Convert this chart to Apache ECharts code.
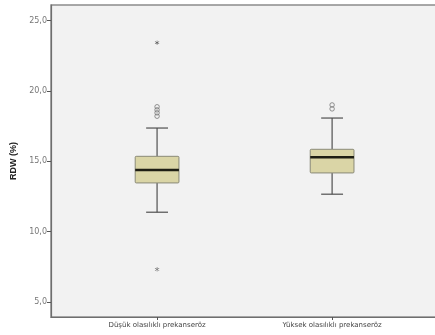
<!DOCTYPE html>
<html>
<head>
<meta charset="utf-8">
<script src="https://cdn.jsdelivr.net/npm/echarts@6/dist/echarts.min.js"></script>
<style>
html,body{margin:0;padding:0;background:#fff;}
#c{width:435px;height:335px;}
</style>
</head>
<body>
<div id="c"></div>
<script>
// Data
var categories = ['Düşük olasılıklı prekanseröz', 'Yüksek olasılıklı prekanseröz'];
var whiskerLow = [11.38, 12.66];
var q1 = [13.46, 14.17];
var median = [14.38, 15.28];
var q3 = [15.35, 15.85];
var whiskerHigh = [17.36, 18.07];
// outliers: [group index (0-based), value]
var outliers = [[0, 18.87], [0, 18.65], [0, 18.44], [0, 18.2], [1, 19.0], [1, 18.72]];
var extremes = [[0, 23.42], [0, 7.32]];
var yTicks = [5, 10, 15, 20, 25];

var boxData = categories.map(function (c, i) {
  return [i + 1, whiskerLow[i], q1[i], median[i], q3[i], whiskerHigh[i]];
});
var outData = outliers.map(function (o) { return [o[0] + 1, o[1]]; });
var extData = extremes.map(function (o) { return [o[0] + 1, o[1]]; });

var starPath = 'path://M-1.2,-10L1.2,-10L1.2,10L-1.2,10Z' +
  'M8.06,-6.04L9.26,-3.96L-8.06,6.04L-9.26,3.96Z' +
  'M-9.26,-3.96L-8.06,-6.04L9.26,3.96L8.06,6.04Z';

var chart = echarts.init(document.getElementById('c'), null, {renderer: 'canvas'});
chart.setOption({
  animation: false,
  backgroundColor: '#ffffff',
  grid: {
    left: 51, top: 5, width: 394, bottom: 18,
    outerBoundsMode: 'none', containLabel: false,
    show: true, backgroundColor: '#f2f2f2', borderColor: '#8c8c8c', borderWidth: 1.5
  },
  xAxis: {
    type: 'value',
    min: 0.394, max: 2.645,
    splitLine: {show: false},
    axisLine: {show: true, onZero: false, lineStyle: {color: '#6e6e6e', width: 1.2}},
    axisTick: {show: true, customValues: [1, 2], length: 3, inside: false, lineStyle: {color: '#555'}},
    axisLabel: {
      customValues: [1, 2], margin: 5,
      formatter: function (v) { return categories[Math.round(v) - 1] || ''; },
      fontSize: 7, color: '#444', fontFamily: 'DejaVu Sans'
    }
  },
  yAxis: {
    type: 'value',
    min: 3.936, max: 26.1,
    name: 'RDW (%)', nameLocation: 'middle', nameGap: 32, nameRotate: 90,
    nameTextStyle: {fontSize: 9, fontWeight: 'bold', color: '#222', fontFamily: 'Liberation Sans'},
    splitLine: {show: false},
    axisLine: {show: true, onZero: false, lineStyle: {color: '#6e6e6e', width: 1.2}},
    axisTick: {show: true, customValues: yTicks, length: 4, lineStyle: {color: '#555'}},
    axisLabel: {
      customValues: yTicks, margin: 4,
      formatter: function (v) { return v.toFixed(1).replace('.', ','); },
      fontSize: 8, color: '#777', fontFamily: 'DejaVu Sans'
    }
  },
  series: [
    {
      type: 'custom',
      data: boxData,
      renderItem: function (params, api) {
        var x = api.value(0);
        var lo = api.coord([x, api.value(1)]);
        var b1 = api.coord([x, api.value(2)]);
        var md = api.coord([x, api.value(3)]);
        var b3 = api.coord([x, api.value(4)]);
        var hi = api.coord([x, api.value(5)]);
        var half = api.size([0.125, 0])[0];
        var cap = half / 2;
        var cx = b1[0];
        var wStyle = {stroke: '#505050', lineWidth: 1.2};
        return {
          type: 'group',
          children: [
            {type: 'line', shape: {x1: cx, y1: b3[1], x2: cx, y2: hi[1]}, style: wStyle},
            {type: 'line', shape: {x1: cx, y1: b1[1], x2: cx, y2: lo[1]}, style: wStyle},
            {type: 'line', shape: {x1: cx - cap, y1: hi[1], x2: cx + cap, y2: hi[1]}, style: wStyle},
            {type: 'line', shape: {x1: cx - cap, y1: lo[1], x2: cx + cap, y2: lo[1]}, style: wStyle},
            {type: 'rect', shape: {x: cx - half, y: b3[1], width: half * 2, height: b1[1] - b3[1], r: 1},
              style: {fill: '#dad5a6', stroke: '#8a8a78', lineWidth: 1}},
            {type: 'line', shape: {x1: cx - half, y1: md[1], x2: cx + half, y2: md[1]},
              style: {stroke: '#1e1e14', lineWidth: 2.4}}
          ]
        };
      },
      z: 3
    },
    {
      type: 'scatter',
      data: outData,
      symbol: 'circle',
      symbolSize: 4.5,
      itemStyle: {color: 'rgba(0,0,0,0)', borderColor: '#777', borderWidth: 1},
      z: 4
    },
    {
      type: 'scatter',
      data: extData,
      symbol: starPath,
      symbolSize: 4.5,
      itemStyle: {color: '#444'},
      z: 4
    }
  ]
});
</script>
</body>
</html>
